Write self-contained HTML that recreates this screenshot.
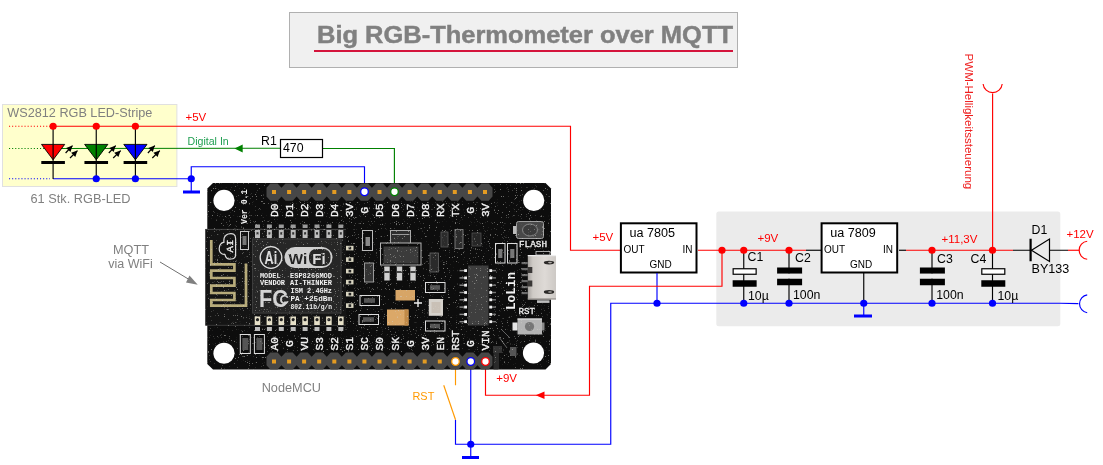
<!DOCTYPE html>
<html><head><meta charset="utf-8"><title>Big RGB-Thermometer over MQTT</title>
<style>
html,body{margin:0;padding:0;background:#fff;}
body{width:1103px;height:465px;overflow:hidden;font-family:"Liberation Sans",sans-serif;}
svg{display:block;will-change:transform}
text{font-family:"Liberation Sans",sans-serif;}
.m{font-family:"Liberation Mono",monospace;font-weight:bold;fill:#f2f2f2;}
.k{font-size:12.3px;fill:#000}
.s{font-size:10px;fill:#000}
.r{font-size:11.5px;fill:#f00}
.g{font-size:12px;fill:#808080}
.w{fill:none;stroke-width:1.15}
</style></head><body>
<svg width="1103" height="465" viewBox="0 0 1103 465">

<rect x="289.5" y="12.5" width="448" height="55" fill="#f0f0f0" stroke="#b0b0b0" stroke-width="1"/>
<text x="317" y="43" font-size="24" font-weight="bold" fill="#808080" stroke="#808080" stroke-width="0.45" textLength="416" lengthAdjust="spacingAndGlyphs">Big RGB-Thermometer over MQTT</text>
<rect x="314" y="50" width="419" height="2" fill="#d4143c"/>
<rect x="2.5" y="104.5" width="174.4" height="82" fill="#ffffcc" stroke="#e0e0e0" stroke-width="1"/>
<text x="7.3" y="117" class="g" textLength="145" lengthAdjust="spacingAndGlyphs">WS2812 RGB LED-Stripe</text>
<text x="30.5" y="202.5" class="g" textLength="100" lengthAdjust="spacingAndGlyphs">61 Stk. RGB-LED</text>
<line x1="9" y1="126.25" x2="50" y2="126.25" stroke="#ff0000" stroke-width="1.2" stroke-dasharray="1.1 2"/>
<line x1="9" y1="148.5" x2="50" y2="148.5" stroke="#008000" stroke-width="1.2" stroke-dasharray="1.1 2"/>
<line x1="9" y1="178.75" x2="50" y2="178.75" stroke="#0000ff" stroke-width="1.2" stroke-dasharray="1.1 2"/>
<polyline class="w" stroke="#ff0000" points="53.1,126.25 570.5,126.25 570.5,250.25 621,250.25"/>
<polyline class="w" stroke="#008000" points="53.1,148.5 280,148.25"/>
<polyline class="w" stroke="#008000" points="323,148.5 394.4,148.5 394.4,188"/>
<polyline class="w" stroke="#0000ff" points="53.1,178.75 191.25,178.75"/>
<polyline class="w" stroke="#0000ff" points="191.25,192 191.25,166.75 364.5,166.75 364.5,188"/>
<rect x="183" y="190.5" width="17" height="3" fill="#0000ff"/>
<polygon points="41.5,144.4 64.7,144.4 53.1,159.8" fill="#ff0000" stroke="#000" stroke-width="0.9"/>
<line x1="53.1" y1="126" x2="53.1" y2="179" stroke="#000" stroke-width="1.15"/>
<rect x="41.3" y="161" width="23.6" height="3" fill="#000"/>
<circle cx="53.1" cy="126.25" r="3.6" fill="#ff0000"/>
<line x1="65.6" y1="153" x2="72.5" y2="145.6" stroke="#000" stroke-width="1.2"/>
<polygon points="72.5,145.6 70.5,152.1 66.1,148.0" fill="#000"/>
<line x1="70.0" y1="158" x2="77.5" y2="150.6" stroke="#000" stroke-width="1.2"/>
<polygon points="77.5,150.6 75.3,157.0 71.1,152.7" fill="#000"/>
<polygon points="84.65,144.4 107.85,144.4 96.25,159.8" fill="#008000" stroke="#000" stroke-width="0.9"/>
<line x1="96.25" y1="126" x2="96.25" y2="179" stroke="#000" stroke-width="1.15"/>
<rect x="84.45" y="161" width="23.6" height="3" fill="#000"/>
<circle cx="96.25" cy="126.25" r="3.6" fill="#ff0000"/>
<line x1="108.8" y1="153" x2="115.7" y2="145.6" stroke="#000" stroke-width="1.2"/>
<polygon points="115.7,145.6 113.7,152.1 109.3,148.0" fill="#000"/>
<line x1="113.2" y1="158" x2="120.7" y2="150.6" stroke="#000" stroke-width="1.2"/>
<polygon points="120.7,150.6 118.4,157.0 114.2,152.7" fill="#000"/>
<polygon points="123.80000000000001,144.4 147.0,144.4 135.4,159.8" fill="#0000ff" stroke="#000" stroke-width="0.9"/>
<line x1="135.4" y1="126" x2="135.4" y2="179" stroke="#000" stroke-width="1.15"/>
<rect x="123.60000000000001" y="161" width="23.6" height="3" fill="#000"/>
<circle cx="135.4" cy="126.25" r="3.6" fill="#ff0000"/>
<line x1="147.9" y1="153" x2="154.8" y2="145.6" stroke="#000" stroke-width="1.2"/>
<polygon points="154.8,145.6 152.8,152.1 148.4,148.0" fill="#000"/>
<line x1="152.3" y1="158" x2="159.8" y2="150.6" stroke="#000" stroke-width="1.2"/>
<polygon points="159.8,150.6 157.6,157.0 153.4,152.7" fill="#000"/>
<circle cx="96.25" cy="178.75" r="3.6" fill="#0000ff"/>
<circle cx="135.4" cy="178.75" r="3.6" fill="#0000ff"/>
<circle cx="191.25" cy="178.75" r="3.6" fill="#0000ff"/>
<text x="185.5" y="121.25" class="r">+5V</text>
<text x="187.5" y="144.5" font-size="10.6" fill="#1e9e50">Digital In</text>
<polygon points="234.5,148.5 242.7,144.6 242.7,152.4" fill="#008000"/>
<rect x="280.5" y="139.5" width="42" height="18" fill="#fff" stroke="#000" stroke-width="1.2"/>
<text x="283" y="152" class="k">470</text>
<text x="261" y="145" class="k">R1</text>
<text x="113" y="254" class="g" textLength="36" lengthAdjust="spacingAndGlyphs">MQTT</text>
<text x="108.3" y="267.75" class="g" textLength="44.5" lengthAdjust="spacingAndGlyphs">via WiFi</text>
<line x1="160" y1="262" x2="190" y2="280" stroke="#707070" stroke-width="1"/>
<polygon points="197.75,284.75 186,282.5 189.5,275.5" fill="#808080"/>
<text x="261.7" y="392" class="g" textLength="59.3" lengthAdjust="spacingAndGlyphs">NodeMCU</text>
<rect x="716.3" y="211.4" width="344" height="114.8" rx="2.5" fill="#ebebeb"/>
<rect x="620.9" y="223.3" width="75.6" height="49.2" fill="#fff" stroke="#000" stroke-width="2"/>
<text x="629.5" y="237.3" class="k" textLength="45.6" lengthAdjust="spacingAndGlyphs">ua 7805</text>
<text x="623.4" y="253" class="s">OUT</text>
<text x="682.4" y="253" class="s">IN</text>
<text x="649.4" y="267.5" class="s">GND</text>
<rect x="821.6" y="223.3" width="75.6" height="49.2" fill="#fff" stroke="#000" stroke-width="2"/>
<text x="830.2" y="237.3" class="k" textLength="45.6" lengthAdjust="spacingAndGlyphs">ua 7809</text>
<text x="824.1" y="253" class="s">OUT</text>
<text x="883.1" y="253" class="s">IN</text>
<text x="850.1" y="267.5" class="s">GND</text>
<line class="w" stroke="#ff0000" x1="698" y1="250.25" x2="806" y2="250.25"/>
<line class="w" stroke="#000" x1="806" y1="250.25" x2="821" y2="250.25"/>
<line class="w" stroke="#000" x1="899" y1="250.25" x2="906" y2="250.25"/>
<line class="w" stroke="#ff0000" x1="906" y1="250.25" x2="1013" y2="250.25"/>
<line class="w" stroke="#000" x1="1013" y1="250.25" x2="1068" y2="250.25"/>
<line class="w" stroke="#ff0000" x1="1068" y1="250.25" x2="1079.4" y2="250.25"/>
<path class="w" stroke="#ff0000" d="M1087.2,241.3 A9,9 0 0 0 1087.2,259.2"/>
<polyline class="w" stroke="#0000ff" points="1078.4,303.6 1060,303.25 610.75,303.25 610.75,444.25 455.5,444.25 455.5,419.75"/>
<path class="w" stroke="#0000ff" d="M1087.2,294.9 A9,9 0 0 0 1087.2,312.7"/>
<line class="w" stroke="#0000ff" x1="657" y1="273" x2="657" y2="303"/>
<line class="w" stroke="#0000ff" x1="863.75" y1="303" x2="863.75" y2="316"/>
<line class="w" stroke="#000" x1="863.75" y1="273" x2="863.75" y2="303"/>
<rect x="854" y="314.5" width="18" height="3" fill="#0000ff"/>
<polyline class="w" stroke="#ff0000" points="722,250.25 722,286.25 589.5,286.25 589.5,395.25 485.5,395.25 485.5,365"/>
<polygon points="535.75,395.25 544.5,391.5 544.5,399" fill="#ff0000"/>
<line class="w" stroke="#000" x1="743.75" y1="250" x2="743.75" y2="303"/>
<rect x="733.15" y="268.75" width="23" height="5.5" fill="#fff" stroke="#000" stroke-width="1.2"/>
<rect x="732.65" y="280.25" width="24" height="6.5" fill="#000"/>
<line class="w" stroke="#000" x1="789" y1="250" x2="789" y2="303"/>
<rect x="777.1" y="267.5" width="25" height="6.25" fill="#000"/>
<rect x="777.1" y="278.5" width="25" height="6.75" fill="#000"/>
<rect x="777.1" y="273.75" width="25" height="4.75" fill="#ebebeb"/>
<line class="w" stroke="#000" x1="932" y1="250" x2="932" y2="303"/>
<rect x="919.9" y="267.5" width="25" height="6.25" fill="#000"/>
<rect x="919.9" y="278.5" width="25" height="6.75" fill="#000"/>
<rect x="919.9" y="273.75" width="25" height="4.75" fill="#ebebeb"/>
<line class="w" stroke="#000" x1="992.5" y1="250" x2="992.5" y2="303"/>
<rect x="981.8" y="268.75" width="23" height="5.5" fill="#fff" stroke="#000" stroke-width="1.2"/>
<rect x="981.3" y="280.25" width="24" height="6.5" fill="#000"/>
<circle cx="722" cy="250.25" r="3.6" fill="#ff0000"/>
<circle cx="743.75" cy="250.25" r="3.6" fill="#ff0000"/>
<circle cx="789" cy="250.25" r="3.6" fill="#ff0000"/>
<circle cx="932" cy="250.25" r="3.6" fill="#ff0000"/>
<circle cx="992.5" cy="250.25" r="3.6" fill="#ff0000"/>
<circle cx="657" cy="303.25" r="3.6" fill="#0000ff"/>
<circle cx="743.75" cy="303.25" r="3.6" fill="#0000ff"/>
<circle cx="789" cy="303.25" r="3.6" fill="#0000ff"/>
<circle cx="863.75" cy="303.25" r="3.6" fill="#0000ff"/>
<circle cx="932" cy="303.25" r="3.6" fill="#0000ff"/>
<circle cx="992.5" cy="303.25" r="3.6" fill="#0000ff"/>
<text x="747.5" y="260.5" class="k">C1</text><text x="795" y="262" class="k">C2</text>
<text x="937" y="263" class="k">C3</text><text x="970.5" y="263" class="k">C4</text>
<text x="748" y="300" class="k">10µ</text><text x="793" y="298.75" class="k">100n</text>
<text x="936.25" y="298.75" class="k">100n</text><text x="997.5" y="300" class="k">10µ</text>
<text x="592.5" y="241" class="r">+5V</text><text x="757.5" y="241.75" class="r">+9V</text>
<text x="941.5" y="242.5" class="r">+11,3V</text><text x="1066.5" y="237.5" class="r">+12V</text>
<polygon points="1031.5,250.25 1049.5,239 1049.5,261.5" fill="#ebebeb" stroke="#000" stroke-width="1.2"/>
<rect x="1029.5" y="238.75" width="2.2" height="22.5" fill="#000"/>
<text x="1031.5" y="233.75" class="k">D1</text><text x="1031.5" y="272.5" class="k" textLength="37.8" lengthAdjust="spacingAndGlyphs">BY133</text>
<line class="w" stroke="#ff0000" x1="992.6" y1="250" x2="992.6" y2="93.4"/>
<path class="w" stroke="#ff0000" d="M983.1,84 A9.6,9.6 0 0 0 1002.2,84"/>
<text transform="translate(964.5,53.6) rotate(90)" font-size="11.5" fill="#ee1c1c" textLength="135.6" lengthAdjust="spacingAndGlyphs">PWM-Helligkeitssteuerung</text>
<line class="w" stroke="#ff9900" x1="455.5" y1="365" x2="455.5" y2="385.25"/>
<line class="w" stroke="#ff9900" x1="443.75" y1="385.25" x2="455.5" y2="419.75"/>
<line class="w" stroke="#0000ff" x1="470.75" y1="365" x2="470.75" y2="457.5"/>
<rect x="462" y="456" width="17" height="3" fill="#0000ff"/>
<circle cx="470.75" cy="444.25" r="3.6" fill="#0000ff"/>
<text x="496.25" y="382" class="r">+9V</text>
<text x="412.5" y="399.5" font-size="10.9" fill="#ff9900">RST</text>
<g id="board">
<polygon points="213,183 545.5,183 551,188.5 551,364 545.5,369.5 213,369.5 207.3,364 207.3,188.5" fill="#0d0d0d"/>
<rect x="205.25" y="229" width="141" height="96.5" fill="#141414"/>
<line x1="205.5" y1="229.4" x2="346" y2="229.4" stroke="#555" stroke-width="0.8"/>
<line x1="205.5" y1="325.3" x2="346" y2="325.3" stroke="#444" stroke-width="0.8"/>
<circle cx="224" cy="200.4" r="10.6" fill="#fff"/>
<circle cx="533.75" cy="200.4" r="10.6" fill="#fff"/>
<circle cx="224" cy="353.25" r="10.6" fill="#fff"/>
<circle cx="533.5" cy="353" r="10.6" fill="#fff"/>
<polygon points="266.5,187.8 270.4,183.6 277.6,183.6 281.5,187.8 281.5,187.8 285.5,183.6 292.7,183.6 296.6,187.8 296.6,187.8 300.5,183.6 307.7,183.6 311.7,187.8 311.7,187.8 315.6,183.6 322.8,183.6 326.7,187.8 326.8,187.8 330.7,183.6 337.9,183.6 341.8,187.8 341.8,187.8 345.8,183.6 353.0,183.6 356.9,187.8 356.9,187.8 360.8,183.6 368.0,183.6 371.9,187.8 372.0,187.8 375.9,183.6 383.1,183.6 387.0,187.8 387.0,187.8 391.0,183.6 398.2,183.6 402.1,187.8 402.1,187.8 406.0,183.6 413.2,183.6 417.2,187.8 417.2,187.8 421.1,183.6 428.3,183.6 432.2,187.8 432.2,187.8 436.2,183.6 443.4,183.6 447.3,187.8 447.3,187.8 451.2,183.6 458.4,183.6 462.4,187.8 462.4,187.8 466.3,183.6 473.5,183.6 477.4,187.8 477.5,187.8 481.4,183.6 488.6,183.6 492.5,187.8 492.5,196.6 488.6,200.8 481.4,200.8 477.5,196.6 477.4,196.6 473.5,200.8 466.3,200.8 462.4,196.6 462.4,196.6 458.4,200.8 451.2,200.8 447.3,196.6 447.3,196.6 443.4,200.8 436.2,200.8 432.2,196.6 432.2,196.6 428.3,200.8 421.1,200.8 417.2,196.6 417.2,196.6 413.2,200.8 406.0,200.8 402.1,196.6 402.1,196.6 398.2,200.8 391.0,200.8 387.0,196.6 387.0,196.6 383.1,200.8 375.9,200.8 372.0,196.6 371.9,196.6 368.0,200.8 360.8,200.8 356.9,196.6 356.9,196.6 353.0,200.8 345.8,200.8 341.8,196.6 341.8,196.6 337.9,200.8 330.7,200.8 326.8,196.6 326.7,196.6 322.8,200.8 315.6,200.8 311.7,196.6 311.7,196.6 307.7,200.8 300.5,200.8 296.6,196.6 296.6,196.6 292.7,200.8 285.5,200.8 281.5,196.6 281.5,196.6 277.6,200.8 270.4,200.8 266.5,196.6" fill="#474747"/>
<rect x="272.0" y="190" width="4" height="4" fill="#e39b22"/>
<rect x="287.1" y="190" width="4" height="4" fill="#e39b22"/>
<rect x="302.1" y="190" width="4" height="4" fill="#e39b22"/>
<rect x="317.2" y="190" width="4" height="4" fill="#e39b22"/>
<rect x="332.3" y="190" width="4" height="4" fill="#e39b22"/>
<rect x="347.4" y="190" width="4" height="4" fill="#e39b22"/>
<rect x="362.4" y="190" width="4" height="4" fill="#e39b22"/>
<rect x="377.5" y="190" width="4" height="4" fill="#e39b22"/>
<rect x="392.6" y="190" width="4" height="4" fill="#e39b22"/>
<rect x="407.6" y="190" width="4" height="4" fill="#e39b22"/>
<rect x="422.7" y="190" width="4" height="4" fill="#e39b22"/>
<rect x="437.8" y="190" width="4" height="4" fill="#e39b22"/>
<rect x="452.8" y="190" width="4" height="4" fill="#e39b22"/>
<rect x="467.9" y="190" width="4" height="4" fill="#e39b22"/>
<rect x="483.0" y="190" width="4" height="4" fill="#e39b22"/>
<polygon points="266.5,356.8 270.4,352.6 277.6,352.6 281.5,356.8 281.5,356.8 285.5,352.6 292.7,352.6 296.6,356.8 296.6,356.8 300.5,352.6 307.7,352.6 311.7,356.8 311.7,356.8 315.6,352.6 322.8,352.6 326.7,356.8 326.8,356.8 330.7,352.6 337.9,352.6 341.8,356.8 341.8,356.8 345.8,352.6 353.0,352.6 356.9,356.8 356.9,356.8 360.8,352.6 368.0,352.6 371.9,356.8 372.0,356.8 375.9,352.6 383.1,352.6 387.0,356.8 387.0,356.8 391.0,352.6 398.2,352.6 402.1,356.8 402.1,356.8 406.0,352.6 413.2,352.6 417.2,356.8 417.2,356.8 421.1,352.6 428.3,352.6 432.2,356.8 432.2,356.8 436.2,352.6 443.4,352.6 447.3,356.8 447.3,356.8 451.2,352.6 458.4,352.6 462.4,356.8 462.4,356.8 466.3,352.6 473.5,352.6 477.4,356.8 477.5,356.8 481.4,352.6 488.6,352.6 492.5,356.8 492.5,365.2 488.6,369.4 481.4,369.4 477.5,365.2 477.4,365.2 473.5,369.4 466.3,369.4 462.4,365.2 462.4,365.2 458.4,369.4 451.2,369.4 447.3,365.2 447.3,365.2 443.4,369.4 436.2,369.4 432.2,365.2 432.2,365.2 428.3,369.4 421.1,369.4 417.2,365.2 417.2,365.2 413.2,369.4 406.0,369.4 402.1,365.2 402.1,365.2 398.2,369.4 391.0,369.4 387.0,365.2 387.0,365.2 383.1,369.4 375.9,369.4 372.0,365.2 371.9,365.2 368.0,369.4 360.8,369.4 356.9,365.2 356.9,365.2 353.0,369.4 345.8,369.4 341.8,365.2 341.8,365.2 337.9,369.4 330.7,369.4 326.8,365.2 326.7,365.2 322.8,369.4 315.6,369.4 311.7,365.2 311.7,365.2 307.7,369.4 300.5,369.4 296.6,365.2 296.6,365.2 292.7,369.4 285.5,369.4 281.5,365.2 281.5,365.2 277.6,369.4 270.4,369.4 266.5,365.2" fill="#474747"/>
<rect x="272.0" y="359.5" width="4" height="4" fill="#e39b22"/>
<rect x="287.1" y="359.5" width="4" height="4" fill="#e39b22"/>
<rect x="302.1" y="359.5" width="4" height="4" fill="#e39b22"/>
<rect x="317.2" y="359.5" width="4" height="4" fill="#e39b22"/>
<rect x="332.3" y="359.5" width="4" height="4" fill="#e39b22"/>
<rect x="347.4" y="359.5" width="4" height="4" fill="#e39b22"/>
<rect x="362.4" y="359.5" width="4" height="4" fill="#e39b22"/>
<rect x="377.5" y="359.5" width="4" height="4" fill="#e39b22"/>
<rect x="392.6" y="359.5" width="4" height="4" fill="#e39b22"/>
<rect x="407.6" y="359.5" width="4" height="4" fill="#e39b22"/>
<rect x="422.7" y="359.5" width="4" height="4" fill="#e39b22"/>
<rect x="437.8" y="359.5" width="4" height="4" fill="#e39b22"/>
<rect x="452.8" y="359.5" width="4" height="4" fill="#e39b22"/>
<rect x="467.9" y="359.5" width="4" height="4" fill="#e39b22"/>
<rect x="483.0" y="359.5" width="4" height="4" fill="#e39b22"/>
<rect x="493.5" y="353" width="5.5" height="16.4" fill="#2a2a2a"/>
<text class="m" font-size="11.2" style="font-weight:normal" stroke="#f2f2f2" stroke-width="0.35" transform="translate(277.9,217) rotate(-90)">D0</text>
<text class="m" font-size="11.2" style="font-weight:normal" stroke="#f2f2f2" stroke-width="0.35" transform="translate(293.0,217) rotate(-90)">D1</text>
<text class="m" font-size="11.2" style="font-weight:normal" stroke="#f2f2f2" stroke-width="0.35" transform="translate(308.0,217) rotate(-90)">D2</text>
<text class="m" font-size="11.2" style="font-weight:normal" stroke="#f2f2f2" stroke-width="0.35" transform="translate(323.1,217) rotate(-90)">D3</text>
<text class="m" font-size="11.2" style="font-weight:normal" stroke="#f2f2f2" stroke-width="0.35" transform="translate(338.2,217) rotate(-90)">D4</text>
<text class="m" font-size="11.2" style="font-weight:normal" stroke="#f2f2f2" stroke-width="0.35" transform="translate(353.2,217) rotate(-90)">3V</text>
<text class="m" font-size="11.2" style="font-weight:normal" stroke="#f2f2f2" stroke-width="0.35" transform="translate(368.3,213.7) rotate(-90)">G</text>
<text class="m" font-size="11.2" style="font-weight:normal" stroke="#f2f2f2" stroke-width="0.35" transform="translate(383.4,217) rotate(-90)">D5</text>
<text class="m" font-size="11.2" style="font-weight:normal" stroke="#f2f2f2" stroke-width="0.35" transform="translate(398.5,217) rotate(-90)">D6</text>
<text class="m" font-size="11.2" style="font-weight:normal" stroke="#f2f2f2" stroke-width="0.35" transform="translate(413.5,217) rotate(-90)">D7</text>
<text class="m" font-size="11.2" style="font-weight:normal" stroke="#f2f2f2" stroke-width="0.35" transform="translate(428.6,217) rotate(-90)">D8</text>
<text class="m" font-size="11.2" style="font-weight:normal" stroke="#f2f2f2" stroke-width="0.35" transform="translate(443.7,217) rotate(-90)">RX</text>
<text class="m" font-size="11.2" style="font-weight:normal" stroke="#f2f2f2" stroke-width="0.35" transform="translate(458.7,217) rotate(-90)">TX</text>
<text class="m" font-size="11.2" style="font-weight:normal" stroke="#f2f2f2" stroke-width="0.35" transform="translate(473.8,213.7) rotate(-90)">G</text>
<text class="m" font-size="11.2" style="font-weight:normal" stroke="#f2f2f2" stroke-width="0.35" transform="translate(488.9,217) rotate(-90)">3V</text>
<text class="m" font-size="11.2" style="font-weight:normal" stroke="#f2f2f2" stroke-width="0.35" transform="translate(277.9,350.5) rotate(-90)">A0</text>
<text class="m" font-size="11.2" style="font-weight:normal" stroke="#f2f2f2" stroke-width="0.35" transform="translate(293.0,347) rotate(-90)">G</text>
<text class="m" font-size="11.2" style="font-weight:normal" stroke="#f2f2f2" stroke-width="0.35" transform="translate(308.0,350.5) rotate(-90)">VU</text>
<text class="m" font-size="11.2" style="font-weight:normal" stroke="#f2f2f2" stroke-width="0.35" transform="translate(323.1,350.5) rotate(-90)">S3</text>
<text class="m" font-size="11.2" style="font-weight:normal" stroke="#f2f2f2" stroke-width="0.35" transform="translate(338.2,350.5) rotate(-90)">S2</text>
<text class="m" font-size="11.2" style="font-weight:normal" stroke="#f2f2f2" stroke-width="0.35" transform="translate(353.2,350.5) rotate(-90)">S1</text>
<text class="m" font-size="11.2" style="font-weight:normal" stroke="#f2f2f2" stroke-width="0.35" transform="translate(368.3,350.5) rotate(-90)">SC</text>
<text class="m" font-size="11.2" style="font-weight:normal" stroke="#f2f2f2" stroke-width="0.35" transform="translate(383.4,350.5) rotate(-90)">S0</text>
<text class="m" font-size="11.2" style="font-weight:normal" stroke="#f2f2f2" stroke-width="0.35" transform="translate(398.5,350.5) rotate(-90)">SK</text>
<text class="m" font-size="11.2" style="font-weight:normal" stroke="#f2f2f2" stroke-width="0.35" transform="translate(413.5,347) rotate(-90)">G</text>
<text class="m" font-size="11.2" style="font-weight:normal" stroke="#f2f2f2" stroke-width="0.35" transform="translate(428.6,350.5) rotate(-90)">3V</text>
<text class="m" font-size="11.2" style="font-weight:normal" stroke="#f2f2f2" stroke-width="0.35" transform="translate(443.7,350.5) rotate(-90)">EN</text>
<text class="m" font-size="11.2" style="font-weight:normal" stroke="#f2f2f2" stroke-width="0.35" transform="translate(458.7,350.5) rotate(-90)">RST</text>
<text class="m" font-size="11.2" style="font-weight:normal" stroke="#f2f2f2" stroke-width="0.35" transform="translate(473.8,347) rotate(-90)">G</text>
<text class="m" font-size="11.2" style="font-weight:normal" stroke="#f2f2f2" stroke-width="0.35" transform="translate(488.9,350.5) rotate(-90)">VIN</text>
<text class="m" font-size="8.2" transform="translate(247.3,224) rotate(-90)" style="font-weight:bold">Ver 0.1</text>
<path d="M211.3,240 V264.4 H234.4 V270.6 H211.3 V278 H234.4 V285.6 H211.3 V293 H234.4 V300 H211.3 V305.6 H246 V263.5" fill="none" stroke="#b7ab7a" stroke-width="2.7"/>
<path d="M235.6,238.5 V254.5 Q235.6,259 231,259 Q226,259.6 225,254.6 Q218.6,254 219.3,248 Q219.6,243.2 224,242.2 Q223,236 228.2,234 Q235.6,232.4 235.6,238.5 Z" fill="none" stroke="#dcdcdc" stroke-width="1.2"/>
<text class="m" font-size="9.5" style="font-weight:normal" stroke="#eee" stroke-width="0.3" transform="translate(233.4,252.6) rotate(-90)" textLength="13" lengthAdjust="spacingAndGlyphs">AI</text>
<rect x="240.5" y="231.5" width="8" height="18" fill="none" stroke="#ccc" stroke-width="1"/>
<rect x="242.5" y="236" width="4" height="9" fill="#777"/>
<rect x="252" y="238.5" width="89.5" height="75" fill="#262626"/>
<rect x="252.5" y="239" width="88.5" height="74" fill="none" stroke="#3c3c3c" stroke-width="1"/>
<rect x="255.0" y="230" width="5" height="8" fill="#bdbdbd"/>
<rect x="256.5" y="232.2" width="2" height="2.4" fill="#333"/>
<rect x="255.0" y="224.5" width="5" height="3.5" fill="#9a9a9a"/>
<rect x="254.7" y="316.5" width="5.6" height="8.5" fill="#e6e0c8"/>
<circle cx="257.5" cy="319.7" r="1.6" fill="#222"/>
<rect x="255.0" y="327" width="5" height="4" fill="#bbb"/>
<rect x="266.9" y="230" width="5" height="8" fill="#bdbdbd"/>
<rect x="268.4" y="232.2" width="2" height="2.4" fill="#333"/>
<rect x="266.9" y="224.5" width="5" height="3.5" fill="#9a9a9a"/>
<rect x="266.6" y="316.5" width="5.6" height="8.5" fill="#e6e0c8"/>
<circle cx="269.4" cy="319.7" r="1.6" fill="#222"/>
<rect x="266.9" y="327" width="5" height="4" fill="#bbb"/>
<rect x="278.8" y="230" width="5" height="8" fill="#bdbdbd"/>
<rect x="280.3" y="232.2" width="2" height="2.4" fill="#333"/>
<rect x="278.8" y="224.5" width="5" height="3.5" fill="#9a9a9a"/>
<rect x="278.5" y="316.5" width="5.6" height="8.5" fill="#e6e0c8"/>
<circle cx="281.3" cy="319.7" r="1.6" fill="#222"/>
<rect x="278.8" y="327" width="5" height="4" fill="#bbb"/>
<rect x="290.7" y="230" width="5" height="8" fill="#bdbdbd"/>
<rect x="292.2" y="232.2" width="2" height="2.4" fill="#333"/>
<rect x="290.7" y="224.5" width="5" height="3.5" fill="#9a9a9a"/>
<rect x="290.4" y="316.5" width="5.6" height="8.5" fill="#e6e0c8"/>
<circle cx="293.2" cy="319.7" r="1.6" fill="#222"/>
<rect x="290.7" y="327" width="5" height="4" fill="#bbb"/>
<rect x="302.6" y="230" width="5" height="8" fill="#bdbdbd"/>
<rect x="304.1" y="232.2" width="2" height="2.4" fill="#333"/>
<rect x="302.6" y="224.5" width="5" height="3.5" fill="#9a9a9a"/>
<rect x="302.3" y="316.5" width="5.6" height="8.5" fill="#e6e0c8"/>
<circle cx="305.1" cy="319.7" r="1.6" fill="#222"/>
<rect x="302.6" y="327" width="5" height="4" fill="#bbb"/>
<rect x="314.5" y="230" width="5" height="8" fill="#bdbdbd"/>
<rect x="316.0" y="232.2" width="2" height="2.4" fill="#333"/>
<rect x="314.5" y="224.5" width="5" height="3.5" fill="#9a9a9a"/>
<rect x="314.2" y="316.5" width="5.6" height="8.5" fill="#e6e0c8"/>
<circle cx="317.0" cy="319.7" r="1.6" fill="#222"/>
<rect x="314.5" y="327" width="5" height="4" fill="#bbb"/>
<rect x="326.4" y="230" width="5" height="8" fill="#bdbdbd"/>
<rect x="327.9" y="232.2" width="2" height="2.4" fill="#333"/>
<rect x="326.4" y="224.5" width="5" height="3.5" fill="#9a9a9a"/>
<rect x="326.1" y="316.5" width="5.6" height="8.5" fill="#e6e0c8"/>
<circle cx="328.9" cy="319.7" r="1.6" fill="#222"/>
<rect x="326.4" y="327" width="5" height="4" fill="#bbb"/>
<rect x="338.3" y="230" width="5" height="8" fill="#bdbdbd"/>
<rect x="339.8" y="232.2" width="2" height="2.4" fill="#333"/>
<rect x="338.3" y="224.5" width="5" height="3.5" fill="#9a9a9a"/>
<rect x="338.0" y="316.5" width="5.6" height="8.5" fill="#e6e0c8"/>
<circle cx="340.8" cy="319.7" r="1.6" fill="#222"/>
<rect x="338.3" y="327" width="5" height="4" fill="#bbb"/>
<rect x="346" y="245.8" width="7.5" height="4.6" fill="#d8d4c0"/>
<rect x="348.6" y="246.8" width="2.6" height="2.6" fill="#222"/>
<rect x="346" y="257.3" width="7.5" height="4.6" fill="#d8d4c0"/>
<rect x="348.6" y="258.3" width="2.6" height="2.6" fill="#222"/>
<rect x="346" y="268.8" width="7.5" height="4.6" fill="#d8d4c0"/>
<rect x="348.6" y="269.8" width="2.6" height="2.6" fill="#222"/>
<rect x="346" y="279.8" width="7.5" height="4.6" fill="#d8d4c0"/>
<rect x="348.6" y="280.8" width="2.6" height="2.6" fill="#222"/>
<rect x="346" y="291.8" width="7.5" height="4.6" fill="#d8d4c0"/>
<rect x="348.6" y="292.8" width="2.6" height="2.6" fill="#222"/>
<rect x="346" y="303.3" width="7.5" height="4.6" fill="#d8d4c0"/>
<rect x="348.6" y="304.3" width="2.6" height="2.6" fill="#222"/>
<circle cx="271" cy="257.5" r="10.8" fill="none" stroke="#e0e0e0" stroke-width="1.3"/>
<text x="264.6" y="264.3" font-size="19" font-weight="bold" fill="#ddd" font-family="Liberation Sans" textLength="12.6" lengthAdjust="spacingAndGlyphs">Ai</text>
<rect x="284.5" y="247" width="48" height="21" rx="10.5" fill="#cfcfcf"/>
<rect x="309" y="249" width="21.5" height="17" rx="7" fill="#262626"/>
<text x="288.5" y="264" font-size="15.5" font-weight="bold" fill="#222" font-family="Liberation Sans">Wi</text>
<text x="312.3" y="263.5" font-size="15" font-weight="bold" fill="#ddd" font-family="Liberation Sans">Fi</text>
<text class="m" x="260" y="277.5" font-size="6.6" fill="#ddd" textLength="20.5" lengthAdjust="spacingAndGlyphs">MODEL</text>
<text class="m" x="290" y="277.5" font-size="6.6" fill="#ddd" textLength="42" lengthAdjust="spacingAndGlyphs">ESP8266MOD</text>
<text class="m" x="260" y="284.5" font-size="6.6" fill="#ddd" textLength="25" lengthAdjust="spacingAndGlyphs">VENDOR</text>
<text class="m" x="290" y="284.5" font-size="6.6" fill="#ddd" textLength="42" lengthAdjust="spacingAndGlyphs">AI-THINKER</text>
<text class="m" x="290.5" y="293" font-size="6.6" fill="#ddd" textLength="41.5" lengthAdjust="spacingAndGlyphs">ISM 2.4GHz</text>
<text class="m" x="290.5" y="300.5" font-size="6.6" fill="#ddd" textLength="41.5" lengthAdjust="spacingAndGlyphs">PA  +25dBm</text>
<text class="m" x="290.5" y="308.5" font-size="6.6" fill="#ddd" textLength="41.5" lengthAdjust="spacingAndGlyphs">802.11b/g/n</text>
<text x="259" y="307" font-size="24" font-weight="bold" fill="#d4d4d4" font-family="Liberation Sans" textLength="29" lengthAdjust="spacingAndGlyphs">FC</text>
<text x="279.5" y="304" font-size="13" font-weight="bold" fill="#d4d4d4" font-family="Liberation Sans">C</text>
<rect x="240.3" y="334.5" width="10" height="19" fill="none" stroke="#ddd" stroke-width="1"/>
<rect x="242.3" y="338" width="6" height="12" fill="#555"/>
<rect x="254.39999999999998" y="334.5" width="10" height="19" fill="none" stroke="#ddd" stroke-width="1"/>
<rect x="256.4" y="338" width="6" height="12" fill="#555"/>
<rect x="362.5" y="230.5" width="10" height="20" fill="none" stroke="#bbb" stroke-width="1"/>
<rect x="365.5" y="237" width="4.5" height="9" fill="#888"/>
<rect x="364.5" y="263" width="9" height="19" fill="#333" stroke="#999" stroke-width="1"/>
<rect x="390.5" y="230.5" width="20" height="14" fill="#2e2e2e" stroke="#aaa" stroke-width="1"/>
<line x1="392" y1="234.5" x2="409" y2="234.5" stroke="#999" stroke-width="1"/>
<rect x="380.5" y="243" width="40.5" height="22" fill="#0d0d0d" stroke="#b5b5b5" stroke-width="1"/>
<rect x="383.5" y="246.5" width="35" height="17" fill="#3b3b3b"/>
<rect x="384.3" y="266.5" width="5.4" height="14" fill="#d0d0d0"/>
<rect x="384.3" y="271" width="5.4" height="2" fill="#444"/>
<rect x="396.8" y="266.5" width="5.4" height="14" fill="#d0d0d0"/>
<rect x="396.8" y="271" width="5.4" height="2" fill="#444"/>
<rect x="410.3" y="266.5" width="5.4" height="14" fill="#d0d0d0"/>
<rect x="410.3" y="271" width="5.4" height="2" fill="#444"/>
<rect x="395.5" y="290" width="19.5" height="10.5" fill="#d7a566"/>
<rect x="387" y="309.5" width="21.5" height="16" fill="#dba868"/>
<rect x="404.5" y="309.5" width="4" height="16" fill="#c08a48"/>
<path d="M418,299 v8 M414,303 h8" stroke="#eee" stroke-width="1.4"/>
<rect x="360" y="295.5" width="19.5" height="10" fill="none" stroke="#ddd" stroke-width="1"/>
<rect x="364" y="298.2" width="11" height="4.6" fill="#555"/>
<rect x="359" y="314.5" width="19.5" height="10" fill="none" stroke="#ddd" stroke-width="1"/>
<rect x="363" y="317.2" width="11" height="4.6" fill="#555"/>
<rect x="425.5" y="282.5" width="19.5" height="10" fill="none" stroke="#ddd" stroke-width="1"/>
<rect x="430.0" y="285.2" width="10" height="4.6" fill="#555"/>
<rect x="425.5" y="321" width="19.5" height="10" fill="none" stroke="#ddd" stroke-width="1"/>
<rect x="430.0" y="323.7" width="10" height="4.6" fill="#555"/>
<rect x="428.8" y="299" width="14.2" height="16.8" fill="#d6d2cc"/><rect x="431.5" y="302" width="9" height="11" fill="#c9c0b6"/>
<rect x="455" y="229.5" width="8" height="19" fill="#2c2c2c" stroke="#8c8c8c" stroke-width="0.8"/>
<rect x="430" y="253" width="8.5" height="19" fill="#2a2a2a" stroke="#666" stroke-width="0.8"/>
<rect x="441" y="232" width="7" height="15" fill="#2b2b2b" stroke="#5a5a5a" stroke-width="0.8"/>
<rect x="472" y="233" width="9" height="13" fill="#262626" stroke="#505050" stroke-width="0.8"/>
<rect x="468" y="265.5" width="20.5" height="60" fill="#3e3e3e"/>
<rect x="459.5" y="269.9" width="6" height="1.4" fill="#8a8a8a"/>
<rect x="490" y="269.9" width="6" height="1.4" fill="#777"/>
<rect x="464.2" y="269.2" width="2.8" height="2.8" fill="#f0f0f0"/>
<rect x="489.3" y="269.2" width="2.8" height="2.8" fill="#f0f0f0"/>
<rect x="459.5" y="277.2" width="6" height="1.4" fill="#8a8a8a"/>
<rect x="490" y="277.2" width="6" height="1.4" fill="#777"/>
<rect x="464.2" y="276.5" width="2.8" height="2.8" fill="#f0f0f0"/>
<rect x="489.3" y="276.5" width="2.8" height="2.8" fill="#f0f0f0"/>
<rect x="459.5" y="284.5" width="6" height="1.4" fill="#8a8a8a"/>
<rect x="490" y="284.5" width="6" height="1.4" fill="#777"/>
<rect x="464.2" y="283.8" width="2.8" height="2.8" fill="#f0f0f0"/>
<rect x="489.3" y="283.8" width="2.8" height="2.8" fill="#f0f0f0"/>
<rect x="459.5" y="291.8" width="6" height="1.4" fill="#8a8a8a"/>
<rect x="490" y="291.8" width="6" height="1.4" fill="#777"/>
<rect x="464.2" y="291.1" width="2.8" height="2.8" fill="#f0f0f0"/>
<rect x="489.3" y="291.1" width="2.8" height="2.8" fill="#f0f0f0"/>
<rect x="459.5" y="299.1" width="6" height="1.4" fill="#8a8a8a"/>
<rect x="490" y="299.1" width="6" height="1.4" fill="#777"/>
<rect x="464.2" y="298.4" width="2.8" height="2.8" fill="#f0f0f0"/>
<rect x="489.3" y="298.4" width="2.8" height="2.8" fill="#f0f0f0"/>
<rect x="459.5" y="306.4" width="6" height="1.4" fill="#8a8a8a"/>
<rect x="490" y="306.4" width="6" height="1.4" fill="#777"/>
<rect x="464.2" y="305.7" width="2.8" height="2.8" fill="#f0f0f0"/>
<rect x="489.3" y="305.7" width="2.8" height="2.8" fill="#f0f0f0"/>
<rect x="459.5" y="313.7" width="6" height="1.4" fill="#8a8a8a"/>
<rect x="490" y="313.7" width="6" height="1.4" fill="#777"/>
<rect x="464.2" y="313.0" width="2.8" height="2.8" fill="#f0f0f0"/>
<rect x="489.3" y="313.0" width="2.8" height="2.8" fill="#f0f0f0"/>
<rect x="459.5" y="321.0" width="6" height="1.4" fill="#8a8a8a"/>
<rect x="490" y="321.0" width="6" height="1.4" fill="#777"/>
<rect x="464.2" y="320.3" width="2.8" height="2.8" fill="#f0f0f0"/>
<rect x="489.3" y="320.3" width="2.8" height="2.8" fill="#f0f0f0"/>
<rect x="495.5" y="243.5" width="9.5" height="19.5" fill="none" stroke="#ddd" stroke-width="1"/>
<rect x="498.2" y="249" width="4.2" height="9" fill="#777"/>
<rect x="507.5" y="243.5" width="9.5" height="19.5" fill="none" stroke="#ddd" stroke-width="1"/>
<rect x="510.2" y="249" width="4.2" height="9" fill="#777"/>
<text class="m" x="519" y="247" font-size="8.6" style="font-weight:normal" stroke="#f2f2f2" stroke-width="0.3" textLength="28" lengthAdjust="spacingAndGlyphs">FLASH</text>
<rect x="516.5" y="221.5" width="27" height="17" rx="2" fill="#484848" stroke="#a0a0a0" stroke-width="1"/>
<ellipse cx="530" cy="230" rx="7.5" ry="6" fill="#3c3c3c" stroke="#8a8a8a" stroke-width="0.9"/>
<rect x="513" y="226" width="3" height="8" fill="#bbb"/>
<text class="m" font-size="13" transform="translate(514.5,310) rotate(-90)" textLength="38" lengthAdjust="spacingAndGlyphs">LoLin</text>
<text class="m" x="518.5" y="314.3" font-size="8.6" style="font-weight:normal" stroke="#f2f2f2" stroke-width="0.3" textLength="16.5" lengthAdjust="spacingAndGlyphs">RST</text>
<rect x="517.5" y="318.5" width="24.5" height="16" fill="#b4b4b4"/><rect x="517.5" y="318.5" width="24.5" height="1.2" fill="#d8d8d8"/>
<circle cx="529.5" cy="326.5" r="4.6" fill="#767676"/>
<rect x="512.5" y="322.5" width="5" height="8" fill="#e6e6e6"/>
<rect x="542" y="322.5" width="2.5" height="8" fill="#8a8a8a"/>
<defs><linearGradient id="usbg" x1="0" x2="1" y1="0" y2="0"><stop offset="0" stop-color="#a8a4a0"/><stop offset="0.18" stop-color="#cfcbc6"/><stop offset="0.6" stop-color="#dedad6"/><stop offset="1" stop-color="#cdc9c5"/></linearGradient></defs>
<rect x="527.8" y="255" width="28.2" height="44.5" fill="url(#usbg)"/>
<rect x="527.8" y="255" width="28.2" height="1.2" fill="#eee"/>
<rect x="527.8" y="298.3" width="28.2" height="1.2" fill="#9a9692"/>
<path d="M527.8,267 h4.5 v6 h-4.5 z M527.8,280.5 h4.5 v6 h-4.5 z" fill="#3a3836"/>
<ellipse cx="549" cy="262.6" rx="5.2" ry="1.9" fill="#2c2a28"/>
<ellipse cx="550" cy="262.6" rx="2" ry="0.8" fill="#b0aca8"/>
<ellipse cx="549" cy="292" rx="5.2" ry="1.9" fill="#2c2a28"/>
<ellipse cx="550" cy="292" rx="2" ry="0.8" fill="#b0aca8"/>
<rect x="536" y="251.5" width="14" height="3.5" fill="none" stroke="#ccc" stroke-width="0.8"/>
<rect x="537" y="300.3" width="12.5" height="2.6" fill="#bdbdbd"/>
<rect x="521.5" y="262" width="6.3" height="2.2" fill="#6a6a6a"/>
<rect x="521.5" y="268" width="6.3" height="2.2" fill="#6a6a6a"/>
<rect x="521.5" y="274" width="6.3" height="2.2" fill="#6a6a6a"/>
<rect x="521.5" y="280" width="6.3" height="2.2" fill="#6a6a6a"/>
<rect x="521.5" y="286" width="6.3" height="2.2" fill="#6a6a6a"/>
<rect x="521.5" y="292" width="6.3" height="2.2" fill="#6a6a6a"/>
<path d="M501,329 l9,9 M499,337 l8,11" stroke="#888" stroke-width="0.7" fill="none"/>
<rect x="510" y="347" width="6.5" height="9" fill="#555"/>
<rect x="493" y="346" width="9" height="7" fill="#333"/>
<defs><filter id="spk" x="0" y="0" width="100%" height="100%" color-interpolation-filters="sRGB"><feTurbulence type="fractalNoise" baseFrequency="0.85" numOctaves="2" seed="7" result="n"/><feColorMatrix in="n" type="matrix" values="0 0 0 0 0.82  0 0 0 0 0.82  0 0 0 0 0.8  0 0 0 10 -6.75"/></filter><clipPath id="bclip"><polygon points="213,183 545.5,183 551,188.5 551,364 545.5,369.5 213,369.5 207.3,364 207.3,229 205.25,229 205.25,325.5 207.3,325.5 207.3,188.5"/></clipPath><mask id="bmask"><rect x="200" y="180" width="360" height="195" fill="#fff"/><circle cx="224" cy="200.4" r="11.5" fill="#000"/><circle cx="533.75" cy="200.4" r="11.5" fill="#000"/><circle cx="224" cy="353.25" r="11.5" fill="#000"/><circle cx="533.5" cy="353" r="11.5" fill="#000"/><rect x="527" y="254.5" width="29" height="45.5" fill="#000"/><rect x="266" y="183" width="228" height="18.5" fill="#000"/><rect x="266" y="352" width="228" height="18" fill="#000"/></mask></defs>
<g clip-path="url(#bclip)" mask="url(#bmask)"><rect x="204" y="182" width="350" height="190" filter="url(#spk)" opacity="0.5"/></g>
</g>
<circle cx="364.5" cy="191.75" r="3.8" fill="#fff" stroke="#0000ff" stroke-width="1.3"/>
<circle cx="394.5" cy="191.75" r="3.8" fill="#fff" stroke="#008000" stroke-width="1.3"/>
<circle cx="455.5" cy="361.5" r="3.8" fill="#fff" stroke="#ff9900" stroke-width="1.3"/>
<circle cx="470.75" cy="361.5" r="3.8" fill="#fff" stroke="#0000ff" stroke-width="1.3"/>
<circle cx="485.5" cy="361.5" r="3.8" fill="#fff" stroke="#ff0000" stroke-width="1.3"/>
</svg>
</body></html>
